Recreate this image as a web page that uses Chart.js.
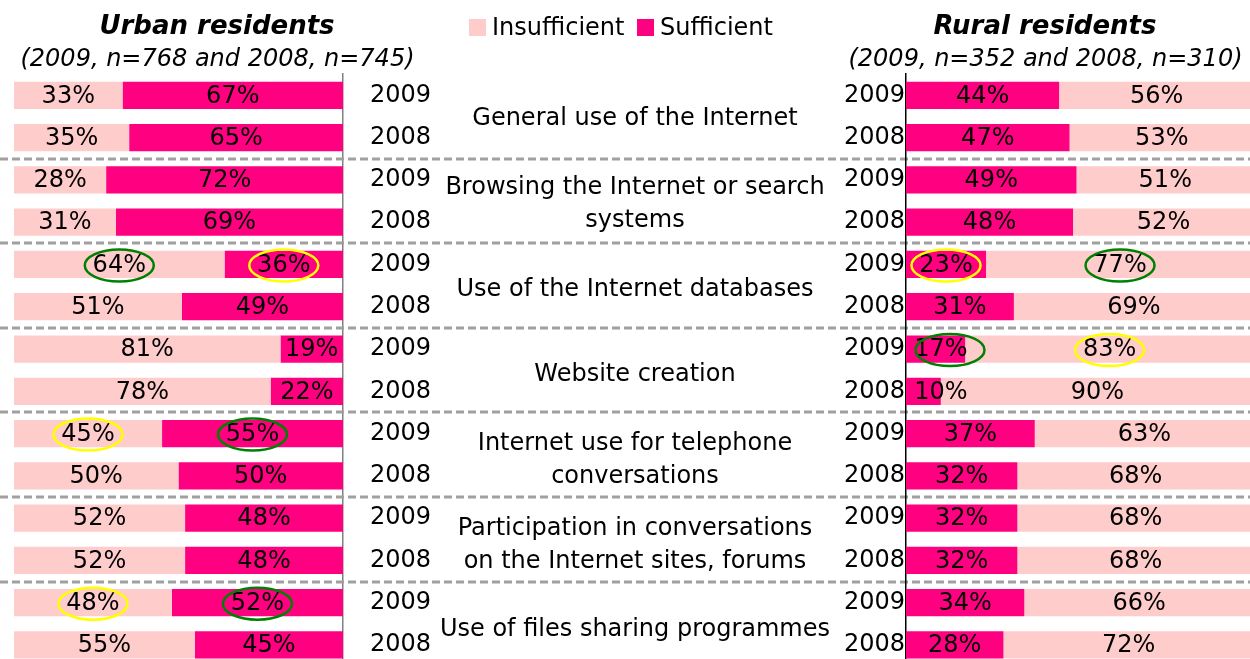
<!DOCTYPE html>
<html>
<head>
<meta charset="utf-8">
<script src="https://cdn.jsdelivr.net/npm/chart.js@4.4.1/dist/chart.umd.min.js"></script>
<style>
  html, body { margin: 0; padding: 0; background: #fff; overflow: hidden; }
  body { width: 1250px; height: 659px; position: relative; font-family: "DejaVu Sans", Verdana, sans-serif; color: #000; }
  canvas { position: absolute; left: 0; top: 0; }
  .title { position: absolute; text-align: center; font-size: 26px; font-weight: bold; font-style: italic; line-height: 30px; }
  .sub { position: absolute; text-align: center; font-size: 24px; font-style: italic; line-height: 30px; }
  #legend { position: absolute; left: 469px; top: 12px; font-size: 24px; line-height: 30px; white-space: nowrap; }
  #legend span.box { display: inline-block; width: 17px; height: 17px; vertical-align: -1px; margin-right: 6px; }
  #cats { position: absolute; left: 420px; width: 430px; top: 75.2px; }
  #cats div { height: 85.2px; display: flex; align-items: center; justify-content: center; text-align: center; white-space: pre-line; font-size: 24px; line-height: 33px; }
</style>
</head>
<body>
<canvas id="urbanChart" width="1260" height="710"></canvas>
<canvas id="ruralChart" width="1260" height="710"></canvas>

<div class="title" style="left:17px;width:400px;top:10px;">Urban residents</div>
<div class="sub" style="left:-10px;width:455px;top:43px;">(2009, n=768 and 2008, n=745)</div>
<div class="title" style="left:845px;width:400px;top:10px;">Rural residents</div>
<div class="sub" style="left:818px;width:455px;top:43px;">(2009, n=352 and 2008, n=310)</div>
<div id="legend"><span class="box" style="background:#FFCCCC"></span>Insufficient <span class="box" style="background:#FF0080;margin-left:5px"></span>Sufficient</div>
<div id="cats"></div>

<script>
// Categories (each has a 2009 and a 2008 bar)
const categories = [
  "General use of the Internet",
  "Browsing the Internet or search\nsystems",
  "Use of the Internet databases",
  "Website creation",
  "Internet use for telephone\nconversations",
  "Participation in conversations\non the Internet sites, forums",
  "Use of files sharing programmes"
];
const years = ["2009", "2008"];

// Urban residents, % (rows: category x year)
const urbanInsufficient = [33, 35, 28, 31, 64, 51, 81, 78, 45, 50, 52, 52, 48, 55];
const urbanSufficient   = [67, 65, 72, 69, 36, 49, 19, 22, 55, 50, 48, 48, 52, 45];

// Rural residents, %
const ruralSufficient   = [44, 47, 49, 48, 23, 31, 17, 10, 37, 32, 32, 32, 34, 28];
const ruralInsufficient = [56, 53, 51, 52, 77, 69, 83, 90, 63, 68, 68, 68, 66, 72];

// circled labels: [row, dataset index]
const urbanYellow = [[4, 1], [8, 0], [12, 0]];
const urbanGreen  = [[4, 0], [8, 1], [12, 1]];
const ruralYellow = [[4, 0], [6, 1]];
const ruralGreen  = [[4, 1], [6, 0]];

const rowLabels = categories.flatMap(() => years);

const PINK = '#FFCCCC';
const MAGENTA = '#FF0080';
const FONT = '"DejaVu Sans", Verdana, sans-serif';

document.getElementById('cats').innerHTML =
  categories.map(c => '<div>' + c + '</div>').join('');

// value labels + circles
const labelPlugin = {
  id: 'valueLabels',
  afterDatasetsDraw(chart, args, opts) {
    const ctx = chart.ctx;
    ctx.save();
    ctx.font = '24px ' + FONT;
    ctx.fillStyle = '#000';
    ctx.textAlign = 'center';
    ctx.textBaseline = 'middle';
    const centers = [];
    chart.data.datasets.forEach((ds, di) => {
      const meta = chart.getDatasetMeta(di);
      centers[di] = [];
      meta.data.forEach((bar, i) => {
        let cx = (bar.x + bar.base) / 2;
        if (opts.minLeft) cx = Math.max(cx, chart.chartArea.left + opts.minLeft);
        centers[di][i] = [cx, bar.y];
        ctx.fillText(ds.data[i] + '%', cx, bar.y + 1);
      });
    });
    const rings = [[opts.yellow || [], '#FFFF00'], [opts.green || [], '#008000']];
    ctx.lineWidth = 2.5;
    rings.forEach(([list, color]) => {
      ctx.strokeStyle = color;
      list.forEach(([row, di]) => {
        let [cx, cy] = centers[di][row];
        // rings around labels squeezed at the axis sit a bit to the right
        if (opts.minLeft && Math.abs(cx - chart.chartArea.left - opts.minLeft) < 0.5) cx += 9;
        ctx.beginPath();
        ctx.ellipse(cx, cy + 1, 34.5, 16, 0, 0, Math.PI * 2);
        ctx.stroke();
      });
    });
    ctx.restore();
  }
};

// dashed separators between categories
const sepPlugin = {
  id: 'separators',
  afterDraw(chart) {
    const ctx = chart.ctx;
    const y = chart.scales.y;
    ctx.save();
    ctx.strokeStyle = '#A0A0A0';
    ctx.lineWidth = 3;
    ctx.setLineDash([8, 4]);
    for (let k = 0; k < categories.length - 1; k++) {
      const yy = Math.round((y.getPixelForValue(2 * k + 1) + y.getPixelForValue(2 * k + 2)) / 2);
      ctx.beginPath();
      ctx.moveTo(0, yy);
      ctx.lineTo(1250, yy);
      ctx.stroke();
    }
    ctx.restore();
  }
};

function makeOptions(side) {
  const urban = side === 'urban';
  return {
    indexAxis: 'y',
    responsive: false,
    maintainAspectRatio: false,
    animation: false,
    layout: {
      padding: urban
        ? { left: 14, right: 817, top: 74.2, bottom: 43.9 }
        : { left: 826, right: 6, top: 74.2, bottom: 43.9 }
    },
    plugins: {
      legend: { display: false },
      tooltip: { enabled: false },
      valueLabels: urban
        ? { yellow: urbanYellow, green: urbanGreen }
        : { yellow: ruralYellow, green: ruralGreen, minLeft: 35 }
    },
    scales: {
      x: { stacked: true, min: 0, max: 100, display: false },
      y: {
        stacked: true,
        position: urban ? 'right' : 'left',
        afterFit: s => { s.width = urban ? 100 : 80; },
        grid: { display: false, drawTicks: false },
        border: { display: true, color: urban ? '#808080' : '#000', width: 1.5 },
        ticks: {
          padding: urban ? 27 : 1,
          color: '#000',
          font: { family: FONT, size: 24 }
        }
      }
    }
  };
}

const barStyle = { barPercentage: 0.645, categoryPercentage: 1, borderWidth: 0 };

new Chart(document.getElementById('urbanChart').getContext('2d'), {
  type: 'bar',
  data: {
    labels: rowLabels,
    datasets: [
      Object.assign({ label: 'Insufficient', data: urbanInsufficient, backgroundColor: PINK }, barStyle),
      Object.assign({ label: 'Sufficient', data: urbanSufficient, backgroundColor: MAGENTA }, barStyle)
    ]
  },
  options: makeOptions('urban'),
  plugins: [sepPlugin, labelPlugin]
});

new Chart(document.getElementById('ruralChart').getContext('2d'), {
  type: 'bar',
  data: {
    labels: rowLabels,
    datasets: [
      Object.assign({ label: 'Sufficient', data: ruralSufficient, backgroundColor: MAGENTA }, barStyle),
      Object.assign({ label: 'Insufficient', data: ruralInsufficient, backgroundColor: PINK }, barStyle)
    ]
  },
  options: makeOptions('rural'),
  plugins: [labelPlugin]
});
</script>
</body>
</html>
